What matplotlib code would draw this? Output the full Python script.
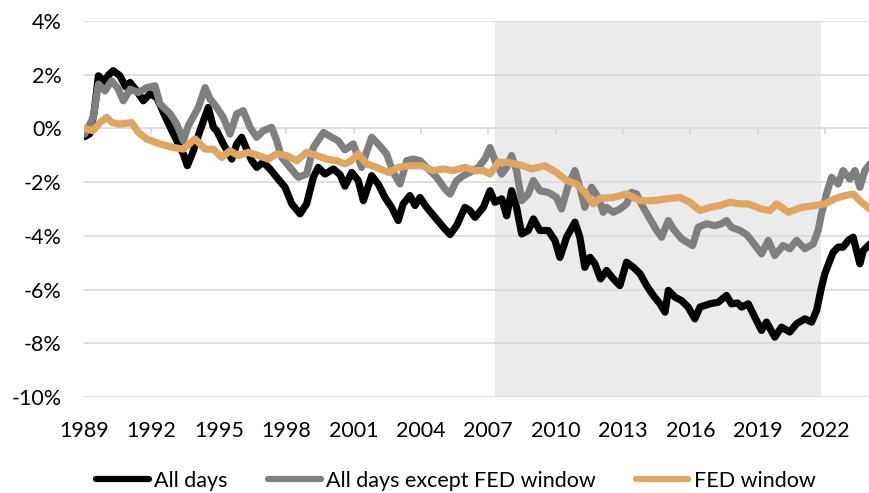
import matplotlib.pyplot as plt
from matplotlib.ticker import FuncFormatter

# (year, cumulative % return)
all_years = [1989.0, 1989.04, 1989.25, 1989.45, 1989.64, 1989.9, 1990.1, 1990.3, 1990.6, 1990.85,
             1991.05, 1991.3, 1991.64, 1991.94, 1992.24, 1992.53, 1992.84, 1993.13, 1993.42, 1993.6,
             1993.87, 1994.16, 1994.53, 1994.76, 1994.91, 1995.2, 1995.58, 1995.8, 1996.02, 1996.24,
             1996.47, 1996.69, 1996.98, 1997.28, 1997.58, 1997.95, 1998.25, 1998.62, 1998.91, 1999.21,
             1999.43, 1999.73, 2000.1, 2000.4, 2000.62, 2000.92, 2001.21, 2001.44, 2001.81, 2002.1,
             2002.4, 2002.7, 2002.99, 2003.21, 2003.51, 2003.74, 2003.96, 2004.26, 2004.63, 2005.0,
             2005.3, 2005.59, 2005.96, 2006.19, 2006.41, 2006.78, 2007.08, 2007.3, 2007.6, 2007.82,
             2008.04, 2008.26, 2008.49, 2008.78, 2009.01, 2009.3, 2009.67, 2009.97, 2010.19, 2010.49,
             2010.86, 2011.08, 2011.3, 2011.53, 2011.75, 2012.0, 2012.27, 2012.57, 2012.86, 2013.16,
             2013.46, 2013.76, 2014.05, 2014.35, 2014.65, 2014.87, 2015.02, 2015.31, 2015.61, 2015.9,
             2016.2, 2016.43, 2016.87, 2017.24, 2017.61, 2017.83, 2018.1, 2018.28, 2018.58, 2018.87,
             2019.17, 2019.39, 2019.76, 2020.06, 2020.43, 2020.73, 2021.1, 2021.4, 2021.62, 2021.84,
             2021.99, 2022.21, 2022.36, 2022.58, 2022.8, 2023.03, 2023.25, 2023.55, 2023.7, 2024.0]
all_days = [0.0, -0.3, -0.2, 0.6, 1.96, 1.75, 2.0, 2.15, 1.96, 1.55,
            1.71, 1.45, 1.03, 1.29, 1.15, 0.6, 0.04, -0.46, -0.95, -1.39,
            -0.83, -0.09, 0.78, 0.04, -0.09, -0.58, -1.14, -0.58, -0.33, -0.77,
            -1.2, -1.45, -1.26, -1.51, -1.82, -2.19, -2.81, -3.18, -2.81, -1.82,
            -1.45, -1.7, -1.51, -1.72, -2.15, -1.64, -1.94, -2.69, -1.76, -2.07,
            -2.57, -2.94, -3.43, -2.81, -2.5, -2.87, -2.57, -2.94, -3.31, -3.68,
            -3.95, -3.62, -2.94, -3.06, -3.31, -2.94, -2.32, -2.75, -2.62, -3.25,
            -2.32, -2.94, -3.93, -3.8, -3.37, -3.8, -3.8, -4.17, -4.8, -4.05,
            -3.49, -4.05, -5.17, -4.8, -5.04, -5.6, -5.29, -5.6, -5.85, -4.98,
            -5.17, -5.41, -5.85, -6.22, -6.53, -6.84, -6.03, -6.28, -6.41, -6.65,
            -7.09, -6.65, -6.53, -6.47, -6.22, -6.53, -6.5, -6.65, -6.53, -7.03,
            -7.52, -7.21, -7.77, -7.4, -7.58, -7.27, -7.09, -7.21, -6.78, -5.91,
            -5.41, -4.92, -4.61, -4.42, -4.42, -4.17, -4.05, -5.04, -4.55, -4.3]

ex_years = [1989.0, 1989.04, 1989.41, 1989.64, 1989.93, 1990.23, 1990.5, 1990.75, 1991.05, 1991.42,
            1991.79, 1992.16, 1992.38, 1992.84, 1993.13, 1993.42, 1993.64, 1994.09, 1994.39, 1994.61,
            1994.91, 1995.2, 1995.5, 1995.8, 1996.09, 1996.39, 1996.69, 1996.98, 1997.35, 1997.58,
            1997.8, 1998.17, 1998.54, 1998.91, 1999.21, 1999.66, 2000.03, 2000.32, 2000.62, 2000.99,
            2001.36, 2001.6, 2001.81, 2002.1, 2002.47, 2002.77, 2003.07, 2003.37, 2003.66, 2003.96,
            2004.26, 2004.7, 2005.07, 2005.3, 2005.59, 2005.89, 2006.26, 2006.56, 2006.85, 2007.08,
            2007.3, 2007.6, 2007.82, 2008.04, 2008.26, 2008.49, 2008.78, 2009.01, 2009.3, 2009.67,
            2010.04, 2010.26, 2010.56, 2010.86, 2011.08, 2011.3, 2011.6, 2011.9, 2012.12, 2012.27,
            2012.57, 2012.86, 2013.16, 2013.38, 2013.6, 2013.9, 2014.2, 2014.5, 2014.72, 2015.02,
            2015.24, 2015.61, 2015.98, 2016.1, 2016.35, 2016.72, 2017.09, 2017.39, 2017.61, 2017.83,
            2018.21, 2018.5, 2018.72, 2019.17, 2019.47, 2019.76, 2020.13, 2020.43, 2020.73, 2021.1,
            2021.47, 2021.69, 2021.84, 2022.06, 2022.29, 2022.58, 2022.8, 2023.1, 2023.33, 2023.55,
            2023.77, 2024.0]
ex_fed = [0.0, -0.2, 0.41, 1.65, 1.4, 1.77, 1.5, 1.03, 1.46, 1.34,
          1.52, 1.59, 0.91, 0.54, 0.16, -0.46, 0.1, 0.78, 1.52, 1.1,
          0.78, 0.41, -0.21, 0.54, 0.66, 0.04, -0.33, -0.09, 0.04, -0.46,
          -1.08, -1.45, -1.82, -1.7, -0.71, -0.15, -0.33, -0.46, -0.8, -0.58,
          -1.45, -0.83, -0.33, -0.58, -0.95, -1.64, -2.07, -1.2, -1.14, -1.2,
          -1.45, -1.82, -2.25, -2.44, -1.94, -1.76, -1.6, -1.45, -1.14, -0.71,
          -1.2, -1.7, -1.45, -1.01, -1.57, -2.69, -2.44, -1.94, -2.32, -2.38,
          -2.57, -3.0, -2.13, -1.57, -2.19, -2.94, -2.19, -2.57, -3.12, -2.94,
          -3.12, -3.0, -2.81, -2.38, -2.44, -2.94, -3.37, -3.8, -4.05, -3.43,
          -3.74, -4.11, -4.3, -4.36, -3.68, -3.55, -3.62, -3.55, -3.43, -3.68,
          -3.8, -3.95, -4.17, -4.67, -4.17, -4.73, -4.36, -4.48, -4.17, -4.48,
          -4.3, -3.8, -3.18, -2.44, -1.82, -2.07, -1.57, -1.88, -1.57, -2.19,
          -1.57, -1.32]

fed_years = [1989.0, 1989.4, 1989.71, 1990.0, 1990.25, 1990.6, 1991.12, 1991.42, 1991.79, 1992.38,
             1992.98, 1993.42, 1993.94, 1994.39, 1994.76, 1995.13, 1995.5, 1995.87, 1996.32, 1996.76,
             1997.2, 1997.58, 1998.02, 1998.47, 1998.91, 1999.36, 1999.8, 2000.25, 2000.62, 2000.9,
             2001.21, 2001.59, 2002.03, 2002.55, 2003.0, 2003.51, 2004.03, 2004.55, 2005.0, 2005.44,
             2005.96, 2006.41, 2006.8, 2007.08, 2007.45, 2007.82, 2008.19, 2008.56, 2008.93, 2009.52,
             2010.04, 2010.49, 2010.93, 2011.3, 2011.67, 2011.97, 2012.57, 2013.16, 2013.76, 2014.35,
             2014.94, 2015.54, 2015.98, 2016.43, 2016.87, 2017.32, 2017.76, 2018.21, 2018.58, 2019.17,
             2019.54, 2019.84, 2020.36, 2020.95, 2021.55, 2021.99, 2022.43, 2022.88, 2023.25, 2023.62,
             2024.0]
fed_window = [0.0, -0.08, 0.22, 0.41, 0.22, 0.16, 0.22, -0.15, -0.39, -0.58,
              -0.71, -0.77, -0.39, -0.77, -0.77, -1.08, -0.83, -1.01, -0.89, -1.01,
              -1.14, -0.95, -1.01, -1.2, -0.89, -1.01, -1.14, -1.2, -1.32, -1.2,
              -0.95, -1.32, -1.45, -1.64, -1.45, -1.39, -1.39, -1.57, -1.51, -1.57,
              -1.45, -1.57, -1.57, -1.7, -1.26, -1.26, -1.32, -1.39, -1.51, -1.39,
              -1.64, -1.94, -2.07, -2.38, -2.81, -2.6, -2.57, -2.44, -2.69, -2.69,
              -2.62, -2.57, -2.75, -3.06, -2.94, -2.87, -2.75, -2.81, -2.81, -3.0,
              -3.06, -2.81, -3.12, -2.94, -2.87, -2.81, -2.62, -2.5, -2.44, -2.75,
              -3.0]

shade_period = (2007.3, 2021.8)
x_ticks = list(range(1989, 2023, 3))
y_ticks = list(range(-10, 5, 2))

plt.rcParams['font.family'] = ['Lato', 'DejaVu Sans']

fig = plt.figure(figsize=(8.7, 4.93), dpi=100)
ax = fig.add_axes([0.0966, 0.1947, 0.9034, 0.7627])

ax.axvspan(*shade_period, color='#EBEBEB', lw=0, zorder=0)
for v in y_ticks:
    ax.axhline(v, color='#D9D9D9', lw=1.2, zorder=1)
# small tick marks hanging from the zero line
ax.vlines(x_ticks, -0.2, 0, color='#D9D9D9', lw=1.2, zorder=1)

kw = dict(lw=5.2, solid_joinstyle='round', solid_capstyle='round', zorder=3)
ax.plot(all_years, all_days, color='black', label='All days', **kw)
ax.plot(ex_years, ex_fed, color='#7F7F7F', label='All days except FED window', **kw)
ax.plot(fed_years, fed_window, color='#DFA562', label='FED window', **kw)

ax.set_xlim(1989, 2024)
ax.set_ylim(-10, 4)
ax.set_xticks(x_ticks)
ax.set_yticks(y_ticks)
ax.yaxis.set_major_formatter(FuncFormatter(lambda v, p: f'{v:.0f}%'))
ax.tick_params(axis='both', length=0, labelsize=15.5, colors='black')
ax.tick_params(axis='x', pad=17)
ax.tick_params(axis='y', pad=16)
for s in ax.spines.values():
    s.set_visible(False)

leg = fig.legend(loc='center', bbox_to_anchor=(0.524, 0.025), ncol=3, frameon=False,
                 handlelength=2.45, handletextpad=0.25, columnspacing=1.85,
                 prop={'size': 15.5})
for h in leg.get_lines():
    h.set_linewidth(4.5)

fig.savefig('out.png', dpi=100)
